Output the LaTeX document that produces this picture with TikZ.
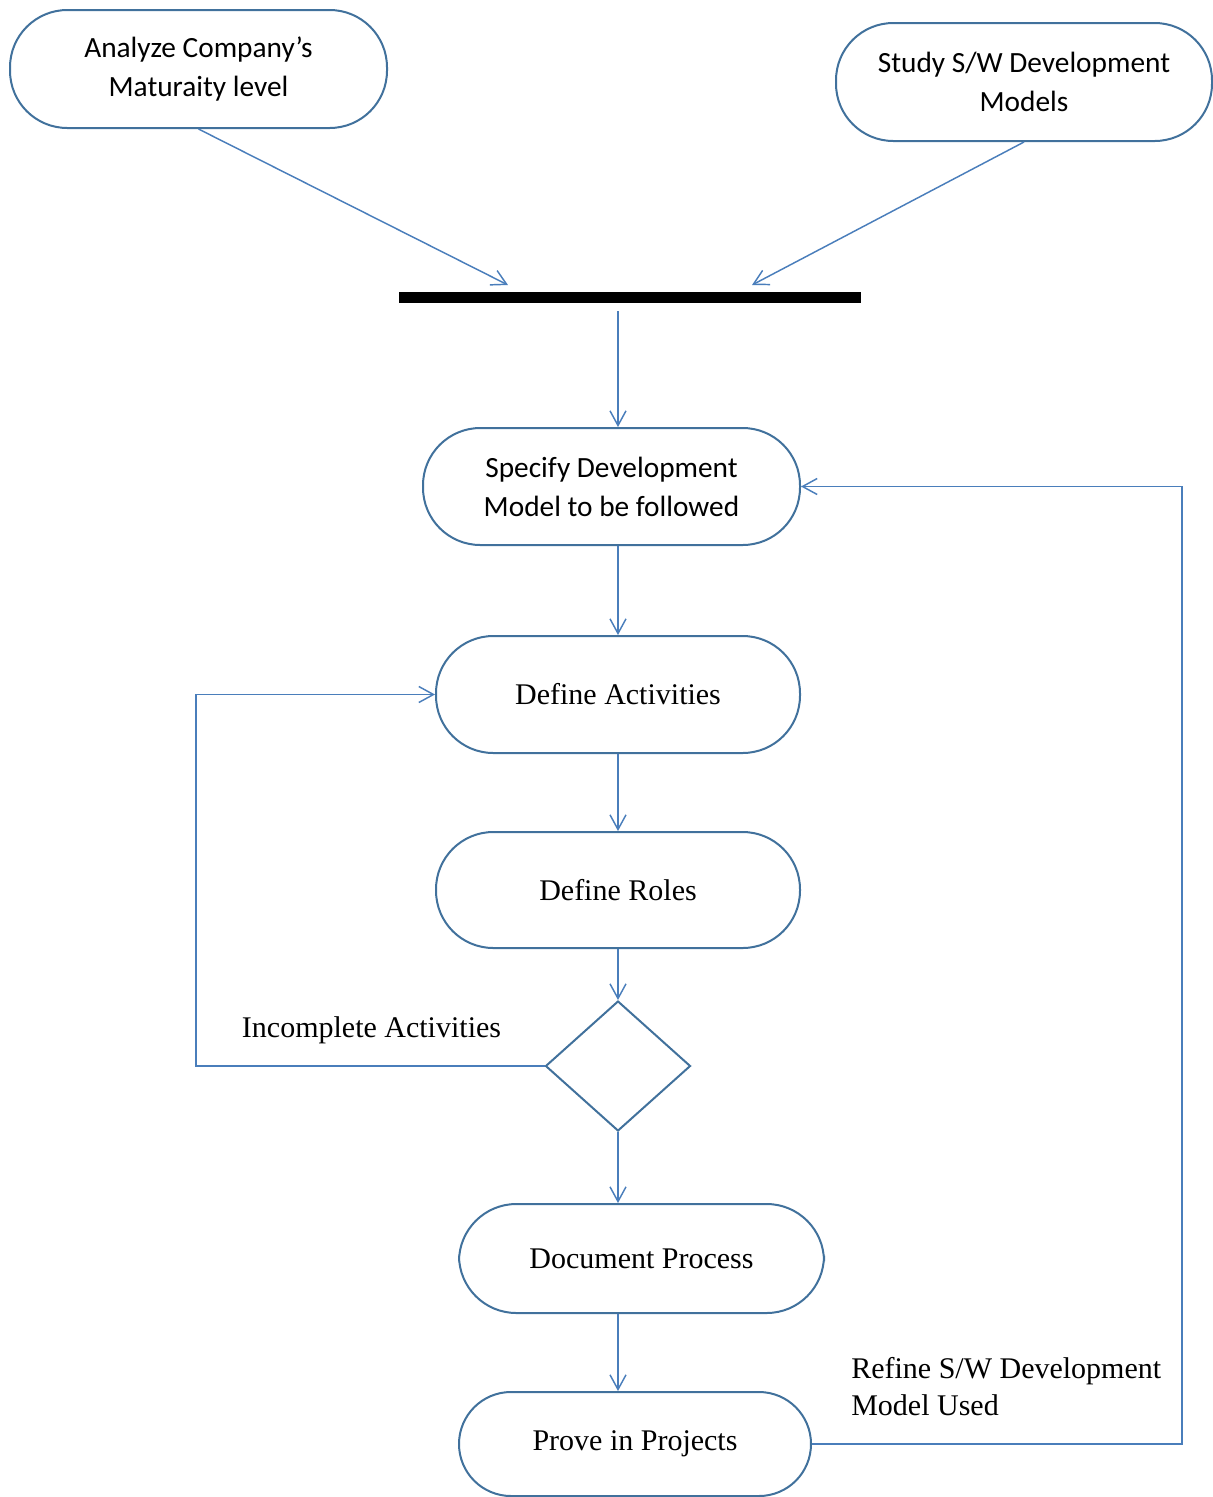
\documentclass[tikz,border=0pt]{standalone}
\usepackage{fontspec}
\setmainfont{Liberation Serif}
\newfontfamily\calibri{Carlito}
\usetikzlibrary{arrows.meta,shapes.geometric}

\definecolor{nodeblue}{HTML}{41719C}
\definecolor{linkblue}{HTML}{4A7EBB}

\begin{document}
\begin{tikzpicture}[x=0.75pt,y=-0.75pt,
  activity/.style={draw=nodeblue,line width=1.5pt,rounded corners=43pt,
    align=center,inner sep=0pt,font=\fontsize{22.5pt}{27pt}\selectfont},
  sansact/.style={activity,font=\calibri\fontsize{22pt}{29.25pt}\selectfont},
  link/.style={draw=linkblue,line width=1.1pt,
    -{Straight Barb[length=11pt,width=12pt,line width=1.1pt]}},
  plain/.style={draw=linkblue,line width=1.1pt},
  label/.style={inner sep=0pt,font=\fontsize{22.5pt}{27.75pt}\selectfont}]

\useasboundingbox (0,0) rectangle (1213,1497);

% activity nodes
\node[sansact,minimum width=282.75pt,minimum height=88.5pt] (analyze) at (198.5,69)
  {Analyze Company’s\\Maturaity level};
\node[sansact,minimum width=282pt,minimum height=88.5pt] (study) at (1024,82)
  {Study S/W Development\\Models};
\node[rectangle,fill=black,inner sep=0pt,minimum width=346.5pt,minimum height=8.25pt]
  (bar) at (630,297.5) {};
\node[sansact,minimum width=282.75pt,minimum height=87.75pt] (spec) at (611.5,486.5)
  {Specify Development\\Model to be followed};
\node[activity,minimum width=273pt,minimum height=87.75pt] (acts) at (618,694.5)
  {Define Activities};
\node[activity,minimum width=273pt,minimum height=87pt] (roles) at (618,890)
  {Define Roles};
\node[diamond,draw=nodeblue,line width=1.5pt,inner sep=0pt,
  minimum width=108.75pt,minimum height=97.5pt] (dec) at (618,1066) {};
\node[activity,minimum width=273.75pt,minimum height=81.75pt] (doc) at (641.5,1258.5)
  {Document Process};
\node[activity,minimum width=264pt,minimum height=78pt,rounded corners=39pt] (prove) at (635,1444)
  {Prove in Projects};

% labels
\node[label] (incomplete) at (371.5,1030) {Incomplete Activities};
\node[label,anchor=west,align=left] (refine) at (851,1387)
  {Refine S/W Development\\Model Used};

% join points
\coordinate (joinL) at (508,285);
\coordinate (joinR) at (752,285);
\coordinate (barout) at (618,311);
\coordinate (loopL) at (196,694.5);
\coordinate (loopR) at (1182,486.5);

% connectors
\draw[link] (analyze.south) -- (joinL);
\draw[link] (study.south) -- (joinR);
\draw[link] (barout) -- (barout |- spec.north);
\draw[link] (spec.south -| acts.north) -- (acts.north);
\draw[link] (acts.south) -- (roles.north);
\draw[link] (roles.south) -- (dec.north);
\draw[link] (dec.west) -| (loopL) -- (acts.west);
\draw[link] (dec.south) -- (dec.south |- doc.north);
\draw[link] (doc.south -| dec.south) -- (prove.north -| dec.south);
\draw[link] (prove.east) -| (loopR) -- (spec.east);

\end{tikzpicture}
\end{document}
